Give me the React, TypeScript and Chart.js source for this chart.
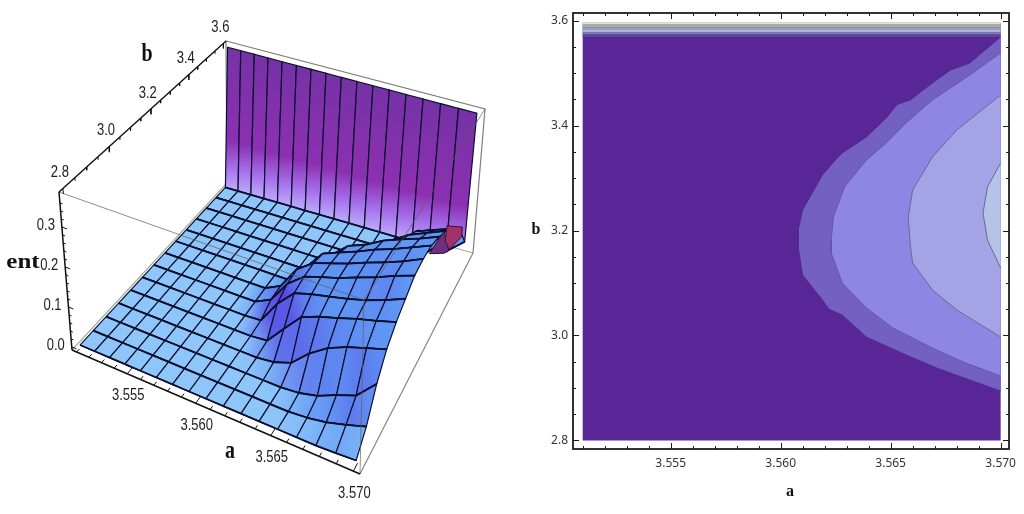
import React, { useEffect, useRef } from "react";
import { Chart, registerables } from "chart.js";

Chart.register(...registerables);

// ---------- data ----------
const aMesh = [3.551, 3.5521875, 3.553375, 3.5545625, 3.55575, 3.5569375, 3.558125, 3.5593125, 3.5605, 3.5616875, 3.562875, 3.5640625, 3.56525, 3.5664375, 3.567625, 3.5688125, 3.57];
const bMesh = [2.8, 2.86, 2.92, 2.98, 3.04, 3.1, 3.16, 3.22, 3.28, 3.34, 3.4, 3.46, 3.52, 3.58, 3.6];
const entRows = [
  [0, 0, 0, 0, 0, 0, 0, 0, 0, 0, 0, 0, 0, 0, 0, 0.002, 0.005],
  [0, 0, 0, 0, 0, 0, 0, 0, 0, 0, 0, 0, 0, 0.004, 0.012, 0.025, 0.04],
  [0, 0, 0, 0, 0, 0, 0, 0, 0, 0, 0, 0, 0.004, 0.015, 0.035, 0.052, 0.098],
  [0, 0, 0, 0, 0, 0, 0, 0, 0, 0, 0.005, 0.02, 0.06, 0.09, 0.11, 0.125, 0.14],
  [0, 0, 0, 0, 0, 0, 0, 0, 0, 0.004, 0.05, 0.095, 0.112, 0.125, 0.14, 0.152, 0.166],
  [0, 0, 0, 0, 0, 0, 0, 0, 0.003, 0.06, 0.102, 0.115, 0.125, 0.135, 0.148, 0.165, 0.185],
  [0, 0, 0, 0, 0, 0, 0, 0, 0.02, 0.075, 0.108, 0.122, 0.135, 0.152, 0.168, 0.188, 0.205],
  [0, 0, 0, 0, 0, 0, 0, 0, 0.02, 0.078, 0.108, 0.122, 0.136, 0.154, 0.17, 0.188, 0.21],
  [0, 0, 0, 0, 0, 0, 0, 0, 0, 0.048, 0.098, 0.115, 0.132, 0.152, 0.168, 0.188, 0.208],
  [0, 0, 0, 0, 0, 0, 0, 0, 0, 0.005, 0.06, 0.098, 0.115, 0.14, 0.158, 0.175, 0.195],
  [0, 0, 0, 0, 0, 0, 0, 0, 0, 0, 0, 0.01, 0.07, 0.106, 0.135, 0.155, 0.175],
  [0, 0, 0, 0, 0, 0, 0, 0, 0, 0, 0, 0, 0.005, 0.055, 0.11, 0.128, 0.145],
  [0, 0, 0, 0, 0, 0, 0, 0, 0, 0, 0, 0, 0, 0, 0.01, 0.055, 0.11],
  [0, 0, 0, 0, 0, 0, 0, 0, 0, 0, 0, 0, 0, 0, 0, 0, 0.04],
  [0.38, 0.38, 0.38, 0.38, 0.38, 0.38, 0.38, 0.38, 0.38, 0.38, 0.38, 0.38, 0.38, 0.38, 0.38, 0.38, 0.38],
];
const notchFront = [[3.57, 3.377, 0.187], [3.57, 3.435, 0.103], [3.57, 3.394, 0.12], [3.57, 3.267, 0.195]];
const notchBack = [[3.57, 3.402, 0.187], [3.57, 3.546, 0.1], [3.57, 3.546, 0.074], [3.57, 3.435, 0.105], [3.57, 3.394, 0.153]];

const aMajor = [3.555, 3.56, 3.565, 3.57];
const aMinor = [3.551, 3.552, 3.553, 3.554, 3.556, 3.557, 3.558, 3.559, 3.561, 3.562, 3.563, 3.564, 3.566, 3.567, 3.568, 3.569];
const bMajor = [2.8, 3.0, 3.2, 3.4, 3.6];
const bMinor = [2.85, 2.9, 2.95, 3.05, 3.1, 3.15, 3.25, 3.3, 3.35, 3.45, 3.5, 3.55];
const entMajor = [0, 0.1, 0.2, 0.3];
const entMinor = [0.02, 0.04, 0.06, 0.08, 0.12, 0.14, 0.16, 0.18, 0.22, 0.24, 0.26, 0.28, 0.32, 0.34, 0.36];

const contour1 = [[3.57, 3.5686], [3.5686, 3.519], [3.5677, 3.505], [3.5669, 3.481], [3.5659, 3.4486], [3.5653, 3.44], [3.5648, 3.4143], [3.5639, 3.3781], [3.5628, 3.3476], [3.5625, 3.335], [3.5619, 3.3057], [3.561, 3.239], [3.5608, 3.201], [3.5608, 3.1686], [3.561, 3.1152], [3.5619, 3.0676], [3.5622, 3.05], [3.5628, 3.039], [3.5639, 2.9971], [3.5655, 2.9667], [3.5671, 2.9381], [3.5686, 2.9152], [3.57, 2.8943]];
const contour2 = [[3.57, 3.5381], [3.5686, 3.4962], [3.5669, 3.4486], [3.5657, 3.4048], [3.5648, 3.3667], [3.5639, 3.3343], [3.5629, 3.2829], [3.5624, 3.2257], [3.5623, 3.1819], [3.5623, 3.1571], [3.5628, 3.1], [3.5639, 3.0524], [3.5651, 3.0143], [3.5668, 2.9781], [3.5683, 2.9495], [3.57, 2.9229]];
const contour3 = [[3.57, 3.4581], [3.568, 3.3914], [3.5669, 3.34], [3.566, 3.2771], [3.5658, 3.2257], [3.5659, 3.1686], [3.566, 3.1381], [3.5669, 3.0867], [3.568, 3.0486], [3.57, 2.9971]];
const contour4 = [[3.57, 3.3286], [3.5694, 3.2829], [3.5692, 3.2333], [3.5694, 3.1819], [3.57, 3.1286]];
const stripeEdges = [3.5957, 3.5933, 3.587, 3.5819, 3.5775, 3.5737, 3.5692];
const stripeColors = ["#e4e4d4", "#a7ada8", "#9aa1bb", "#a9b5da", "#7e80b9", "#5b4a9d"];

// ---------- left panel: box projection ----------
const aLo = 3.55062, aHi = 3.57038, bLo = 2.784, bHi = 3.616, zLo = -0.0076, zHi = 0.3876;
const warp = (t: number, r: number) => t / (t + r * (1 - t));
const corners: Record<string, number[]> = {
  "000": [72, 350], "100": [360, 474], "010": [227, 183], "110": [473, 253],
  "001": [59, 192], "101": [364, 300], "011": [226, 41], "111": [485, 109],
};
function box(u: number, v: number, w: number) {
  const U = warp(u, 1.2), V = warp(v, 0.82);
  const res = [0, 0];
  for (const k of [0, 1]) {
    const c = (s: string) => corners[s][k];
    const lo = (1 - U) * (1 - V) * c("000") + U * (1 - V) * c("100") + (1 - U) * V * c("010") + U * V * c("110");
    const hi = (1 - U) * (1 - V) * c("001") + U * (1 - V) * c("101") + (1 - U) * V * c("011") + U * V * c("111");
    res[k] = lo * (1 - w) + hi * w;
  }
  return { x: res[0], y: res[1] };
}
const ua = (a: number) => (a - aLo) / (aHi - aLo);
const vb = (b: number) => (b - bLo) / (bHi - bLo);
const wz = (z: number) => (z - zLo) / (zHi - zLo);
const proj = (a: number, b: number, z: number) => box(ua(a), vb(b), wz(z));

const clamp = (v: number) => Math.max(0, Math.min(1, v));
const mix = (p: number[], q: number[], t: number) => p.map((c, n) => c + (q[n] - c) * t);
const rgb = (c: number[]) => `rgb(${c.map(Math.round).join(",")})`;

const wallRow = bMesh.length - 2;

function vertexShade(j: number, i: number) {
  const rowAt = (n: number) => entRows[Math.max(0, Math.min(wallRow, n))];
  const da = (rowAt(j)[Math.min(i + 1, 16)] - rowAt(j)[Math.max(i - 1, 0)]) / 2;
  const db = (rowAt(j + 1)[i] - rowAt(j - 1)[i]) / 2;
  const e = rowAt(j)[i];
  const base = mix([142, 198, 250], [96, 152, 245], clamp(Math.max(e / 0.05, da / 0.012)));
  const p = clamp((da - 0.012) / 0.035) * clamp(0.5 + db / 0.02);
  return mix(base, [88, 62, 224], p);
}

function line(points: any[], color: string, width: number, extra: any = {}) {
  return { data: points, showLine: true, borderColor: color, borderWidth: width, pointRadius: 0, tension: 0, fill: false, ...extra };
}

function leftDatasets(ctx: CanvasRenderingContext2D) {
  const out: any[] = [];
  const gray = "#7d8078";
  const gap = { x: NaN, y: NaN };
  // back edges of the box
  out.push(line([box(0, 0, 0), box(0, 1, 0), box(1, 1, 0)], "#a9aca4", 1.2));
  out.push(line([box(0, 1, 0), box(0, 1, 1), box(1, 1, 1), box(1, 1, 0)], gray, 1.2));
  out.push(line([box(1, 0, 0), box(1, 1, 0)], gray, 1.1));

  const mesh = "#0c1030";
  for (let j = wallRow; j >= 0; j--) {
    for (let i = 0; i < 16; i++) {
      const p00 = proj(aMesh[i], bMesh[j], entRows[j][i]);
      const p10 = proj(aMesh[i + 1], bMesh[j], entRows[j][i + 1]);
      const p11 = proj(aMesh[i + 1], bMesh[j + 1], entRows[j + 1][i + 1]);
      const p01 = proj(aMesh[i], bMesh[j + 1], entRows[j + 1][i]);
      let fillStyle: any;
      if (j === wallRow) {
        const g = ctx.createLinearGradient(p00.x, p00.y, p01.x, p01.y);
        g.addColorStop(0, "rgb(186,166,250)");
        g.addColorStop(0.14, "rgb(165,112,235)");
        g.addColorStop(0.33, "rgb(140,48,178)");
        g.addColorStop(1, "rgb(118,50,165)");
        fillStyle = g;
      } else {
        const c0 = mix(vertexShade(j, i), vertexShade(j + 1, i), 0.5);
        const c1 = mix(vertexShade(j, i + 1), vertexShade(j + 1, i + 1), 0.5);
        const g = ctx.createLinearGradient((p00.x + p01.x) / 2, (p00.y + p01.y) / 2, (p10.x + p11.x) / 2, (p10.y + p11.y) / 2);
        g.addColorStop(0, rgb(c0));
        g.addColorStop(1, rgb(c1));
        fillStyle = g;
      }
      out.push(line([p00, p10, p11, p01, p00], mesh, 1.2, { fill: "shape", backgroundColor: fillStyle }));
      if (j !== wallRow) out.push(line([p00, p10, gap, p01, p11], mesh, 1.8));
    }
  }
  // under side of the surface near the far corner
  const closed = (list: number[][]) => list.concat([list[0]]).map(([a, b, z]) => proj(a, b, z));
  out.push(line(closed(notchFront), "#35102c", 1, { fill: "shape", backgroundColor: "#6d3080" }));
  out.push(line(closed(notchBack), "#35102c", 1, { fill: "shape", backgroundColor: "#a2306a" }));

  // front edges of the box pass over the surface
  out.push(line([box(0, 0, 1), box(1, 0, 1), box(1, 1, 1)], "rgba(90,95,90,0.7)", 1));
  out.push(line([box(1, 0, 0), box(1, 0, 1)], "rgba(90,95,90,0.7)", 1));

  // axes
  const axis = "#101010";
  out.push(line([box(0, 0, 1), box(0, 1, 1)], axis, 1.4));
  out.push(line([box(0, 0, 0), box(1, 0, 0)], axis, 1.5));
  out.push(line([box(0, 0, 0), box(0, 0, 1)], axis, 1.5));
  const ticks: any[] = [];
  const add = (p: any, q: any) => ticks.push(p, q, gap);
  aMajor.forEach((a) => add(box(ua(a), 0, 0), box(ua(a), 0.03, 0)));
  aMinor.forEach((a) => add(box(ua(a), 0, 0), box(ua(a), 0.015, 0)));
  bMajor.forEach((b) => add(box(0, vb(b), 1), box(0, vb(b), 0.965)));
  bMinor.forEach((b) => add(box(0, vb(b), 1), box(0, vb(b), 0.98)));
  entMajor.forEach((z) => add(box(0, 0, wz(z)), box(0.02, 0, wz(z))));
  entMinor.forEach((z) => add(box(0, 0, wz(z)), box(0.01, 0, wz(z))));
  out.push(line(ticks, axis, 1));
  return out;
}

function stretched(c: CanvasRenderingContext2D, text: string, x: number, y: number, font: string, sy: number, sx = 1, color = "#1c1c1c") {
  c.save();
  c.translate(x, y);
  c.scale(sx, sy);
  c.font = font;
  c.fillStyle = color;
  c.textAlign = "center";
  c.textBaseline = "middle";
  c.fillText(text, 0, 0);
  c.restore();
}

const leftText = {
  id: "leftText",
  afterDraw(chart: any) {
    const c = chart.ctx;
    const f = '13px "Liberation Sans"';
    aMajor.forEach((a) => {
      const p = box(ua(a), 0, 0);
      stretched(c, a.toFixed(3), p.x + 1, p.y + 22, f, 1.25);
    });
    bMajor.forEach((b) => {
      const p = box(0, vb(b), 1);
      stretched(c, b.toFixed(1), p.x - 3, p.y - 16, f, 1.25);
    });
    entMajor.forEach((z) => {
      const p = box(0, 0, wz(z));
      stretched(c, z.toFixed(1), p.x - 16, p.y - 1, f, 1.25);
    });
    const s = 'bold 20px "Liberation Serif"';
    stretched(c, "b", 147, 54, s, 1.3, 1, "#111");
    stretched(c, "a", 230, 451, s, 1.3, 1, "#111");
    stretched(c, "ent", 23, 263, s, 1.05, 1.25, "#111");
  },
};

const rightChrome = {
  id: "rightChrome",
  afterDraw(chart: any) {
    const c = chart.ctx;
    const { x: sx, y: sy } = chart.scales;
    const A = chart.chartArea;
    c.save();
    c.strokeStyle = "#1d1d1d";
    c.lineWidth = 1;
    const seg = (x0: number, y0: number, x1: number, y1: number) => {
      c.beginPath();
      c.moveTo(x0, y0);
      c.lineTo(x1, y1);
      c.stroke();
    };
    const vTick = (v: number, len: number) => {
      const p = Math.round(sx.getPixelForValue(v)) + 0.5;
      seg(p, A.bottom, p, A.bottom - len);
      seg(p, A.top, p, A.top + len);
    };
    const hTick = (v: number, len: number) => {
      const p = Math.round(sy.getPixelForValue(v)) + 0.5;
      seg(A.left, p, A.left + len, p);
      seg(A.right, p, A.right - len, p);
    };
    aMajor.forEach((v) => vTick(v, 6));
    aMinor.forEach((v) => vTick(v, 3));
    bMajor.forEach((v) => hTick(v, 6));
    bMinor.forEach((v) => hTick(v, 3));
    c.lineWidth = 1.8;
    c.strokeRect(A.left, A.top, A.right - A.left, A.bottom - A.top);
    c.restore();
    stretched(c, "a", 270, 492, 'bold 16px "Liberation Serif"', 1, 1, "#111");
    stretched(c, "b", 16, 230, 'bold 16px "Liberation Serif"', 1, 1, "#111");
  },
};

function rightDatasets() {
  const pts = (list: number[][]) => list.map(([x, y]) => ({ x, y }));
  const rect = (b0: number, b1: number) => pts([[aMesh[0], b1], [aMesh[16], b1], [aMesh[16], b0], [aMesh[0], b0], [aMesh[0], b1]]);
  const out: any[] = [];
  out.push(line(rect(2.8, stripeEdges[0]), "transparent", 0, { fill: "shape", backgroundColor: "#582696" }));
  stripeColors.forEach((col, n) => {
    out.push(line(rect(stripeEdges[n + 1], stripeEdges[n]), "transparent", 0, { fill: "shape", backgroundColor: col }));
  });
  out.push(line(pts(contour1), "#4e2a8c", 0.8, { fill: "shape", backgroundColor: "#7460c0" }));
  out.push(line(pts(contour2), "#5e50a8", 0.8, { fill: "shape", backgroundColor: "#8f85e3" }));
  out.push(line(pts(contour3), "#666a9a", 1, { fill: "shape", backgroundColor: "#a3a3e6" }));
  out.push(line(pts(contour4), "#666a9a", 1, { fill: "shape", backgroundColor: "#b5c4e6" }));
  return out;
}

function paintOrder(list: any[]) {
  return list.map((d, n) => ({ ...d, order: list.length - n }));
}

export default function App() {
  const leftRef = useRef<HTMLCanvasElement>(null);
  const rightRef = useRef<HTMLCanvasElement>(null);
  useEffect(() => {
    const common = { responsive: false, animation: false as const, plugins: { legend: { display: false }, tooltip: { enabled: false } } };
    const left = new Chart(leftRef.current!, {
      type: "scatter",
      data: { datasets: paintOrder(leftDatasets(leftRef.current!.getContext("2d")!)) },
      plugins: [leftText],
      options: {
        ...common,
        layout: { padding: 0 },
        scales: {
          x: { type: "linear", min: 0, max: 520, display: false },
          y: { type: "linear", min: 0, max: 514, reverse: true, display: false },
        },
      },
    } as any);
    const tickFont = { family: '"Noto Sans"', size: 12 };
    const right = new Chart(rightRef.current!, {
      type: "scatter",
      data: { datasets: paintOrder(rightDatasets()) },
      plugins: [rightChrome],
      options: {
        ...common,
        layout: { padding: { left: 0, top: 13, right: 15, bottom: 0 } },
        scales: {
          x: {
            type: "linear", min: 3.55056, max: 3.57038,
            grid: { display: false, drawTicks: false }, border: { display: false },
            afterBuildTicks: (s: any) => { s.ticks = aMajor.map((value) => ({ value })); },
            afterFit: (s: any) => { s.height = 65; },
            ticks: { autoSkip: false, maxRotation: 0, color: "#333", font: tickFont, padding: 7, callback: (v: any) => Number(v).toFixed(3) },
          },
          y: {
            type: "linear", min: 2.7838, max: 3.6143,
            grid: { display: false, drawTicks: false }, border: { display: false },
            afterBuildTicks: (s: any) => { s.ticks = bMajor.map((value) => ({ value })); },
            afterFit: (s: any) => { s.width = 53; },
            ticks: { autoSkip: false, color: "#333", font: tickFont, padding: 5, callback: (v: any) => Number(v).toFixed(1) },
          },
        },
      },
    } as any);
    return () => { left.destroy(); right.destroy(); };
  }, []);
  return (
    <div style={{ position: "fixed", left: 0, top: 0, width: 1024, height: 514, background: "#fff", overflow: "hidden" }}>
      <canvas ref={leftRef} width={520} height={514} style={{ position: "absolute", left: 0, top: 0, display: "block", filter: "blur(0.35px)" }} />
      <canvas ref={rightRef} width={504} height={514} style={{ position: "absolute", left: 520, top: 0, display: "block", filter: "blur(0.3px)" }} />
    </div>
  );
}
